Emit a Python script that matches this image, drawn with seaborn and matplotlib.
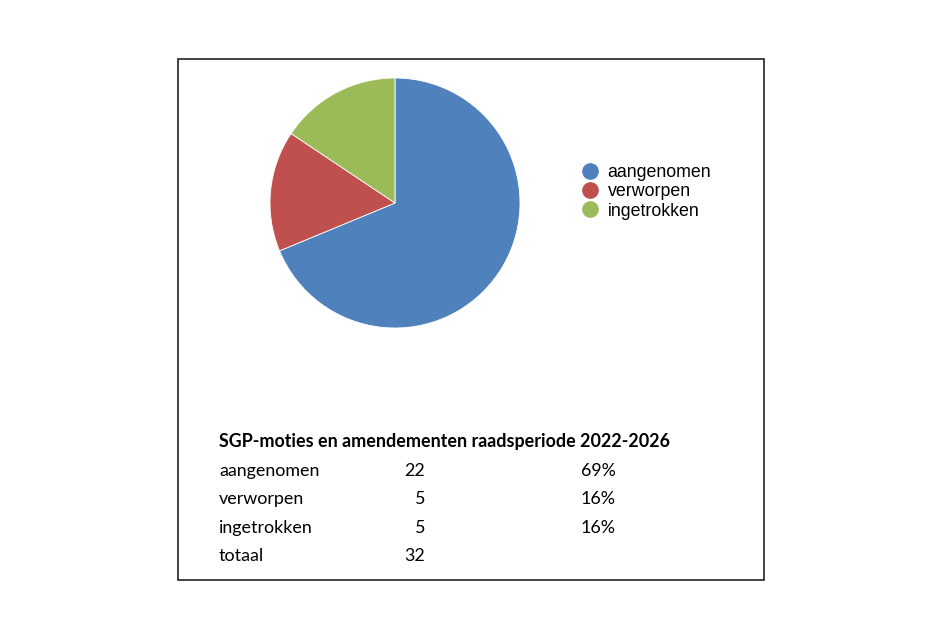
import matplotlib
matplotlib.use("Agg")
import matplotlib.pyplot as plt
from matplotlib.patches import Rectangle
from matplotlib.lines import Line2D
import seaborn as sns

# Data
categories = ["aangenomen", "verworpen", "ingetrokken"]
counts = [22, 5, 5]
pct_labels = ["69%", "16%", "16%"]
total_label = "totaal"
total_value = 32
table_title = "SGP-moties en amendementen raadsperiode 2022-2026"
colors = sns.color_palette(["#4F81BD", "#C0504D", "#9BBB59"])

W, H = 943, 639

sns.set_theme(style="white")
plt.rcParams["font.family"] = ["Liberation Sans", "DejaVu Sans"]
plt.rcParams["text.color"] = "black"

fig = plt.figure(figsize=(W / 100, H / 100), dpi=100)
fig.patch.set_facecolor("white")


def fx(px):
    return px / W


def fy(py):
    return 1 - py / H


# outer border box
fig.patches.append(Rectangle((fx(178), fy(580)), fx(764) - fx(178), fy(59) - fy(580),
                             transform=fig.transFigure, fill=False,
                             edgecolor="#222222", linewidth=1.2))

# pie
cx, cy, r = 395, 203, 125
ax = fig.add_axes([fx(cx - r), fy(cy + r), fx(2 * r), (2 * r) / H])
wedges, _ = ax.pie(counts, colors=colors, startangle=90, counterclock=False,
                   wedgeprops=dict(edgecolor="white", linewidth=0.6))
ax.set_xlim(-1, 1)
ax.set_ylim(-1, 1)
ax.set_aspect("equal")
ax.axis("off")

# legend
handles = [Line2D([0], [0], marker="o", linestyle="", markersize=11,
                  markerfacecolor=c, markeredgecolor=c) for c in colors]
leg = fig.legend(handles, categories, loc="upper left",
                 bbox_to_anchor=(fx(581), fy(164)), frameon=False,
                 fontsize=12.8, handlelength=1.0, handletextpad=0.5,
                 labelspacing=0.13, borderpad=0, borderaxespad=0)
for t in leg.get_texts():
    t.set_color("black")

# table below
tfont = ["Lato", "DejaVu Sans"]
fs = 12.9
fig.text(fx(219), fy(442), table_title, fontsize=fs, fontweight="bold",
         family=tfont, va="center", ha="left", color="black")
rows_y = [471, 499, 528]
for cat, n, p, y in zip(categories, counts, pct_labels, rows_y):
    fig.text(fx(219), fy(y), cat, fontsize=fs, family=tfont, va="center", ha="left", color="black")
    fig.text(fx(425), fy(y), str(n), fontsize=fs, family=tfont, va="center", ha="right", color="black")
    fig.text(fx(616), fy(y), p, fontsize=fs, family=tfont, va="center", ha="right", color="black")
fig.text(fx(219), fy(556), total_label, fontsize=fs, family=tfont, va="center", ha="left", color="black")
fig.text(fx(425), fy(556), str(total_value), fontsize=fs, family=tfont, va="center", ha="right", color="black")

fig.savefig("out.png", dpi=100, facecolor="white")
